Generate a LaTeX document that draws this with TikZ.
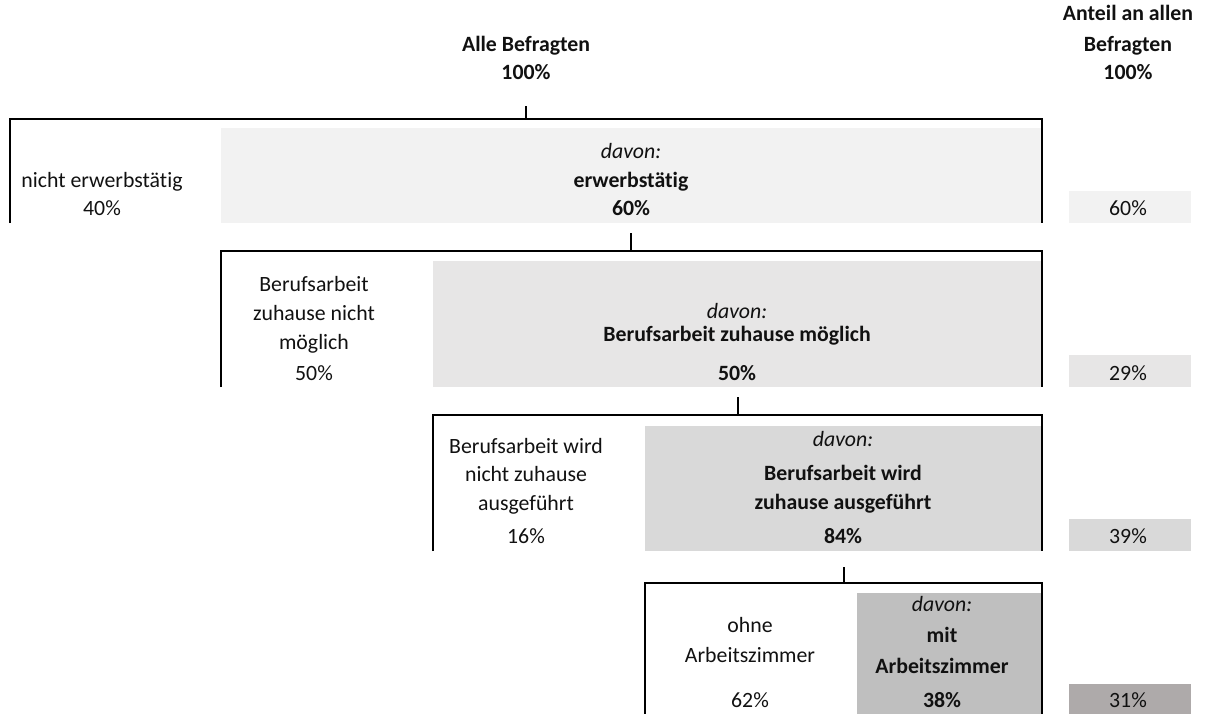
\documentclass[tikz,border=0pt]{standalone}
\usepackage{fontspec}
\setmainfont{Carlito}[Ligatures={NoCommon}]
\definecolor{tintA}{HTML}{F2F2F2}
\definecolor{tintB}{HTML}{E7E6E6}
\definecolor{tintC}{HTML}{D9D9D9}
\definecolor{tintD}{HTML}{BFBFBF}
\definecolor{tintE}{HTML}{AEAAAA}
\definecolor{ink}{HTML}{111111}
\begin{document}
\begin{tikzpicture}[x=1pt,y=-1pt,
  every node/.style={inner sep=0pt, outer sep=0pt, text=ink},
  txt/.style={anchor=base, font=\fontsize{21.8}{26}\selectfont},
  it/.style={anchor=base, font=\fontsize{21.8}{26}\selectfont\itshape},
  bf/.style={anchor=base, font=\fontsize{21.8}{26}\selectfont\bfseries},
  panel/.style={anchor=north west, draw=none},
  frame/.style={draw=black, line width=2.3pt},
  tick/.style={draw=black, line width=1.7pt},
]
\useasboundingbox (0,0) rectangle (1205,713);

% ---- column headers
\node[bf] (hAll1) at (526,51) {Alle Befragten};
\node[bf] (hAll2) at (526,79) {100\%};
\node[bf] (hShr1) at (1128,20) {Anteil an allen};
\node[bf] (hShr2) at (1128,51) {Befragten};
\node[bf] (hShr3) at (1128,79) {100\%};

% ---- level 1: erwerbstaetig
\node[panel, fill=tintA, minimum width=821pt, minimum height=95pt] (p1) at (221,128) {};
\node[panel, fill=tintA, minimum width=122pt, minimum height=32pt] (r1) at (1069,191) {};
\coordinate (f1l) at (10,223);
\coordinate (f1t) at (1042,119);
\coordinate (f1r) at (1042,223);
\draw[frame] (f1l) |- (f1t) -- (f1r);
\coordinate (c1a) at (526,106);
\coordinate (c1b) at (526,118);
\draw[tick] (c1a) -- (c1b);
\node[txt] (l1a) at (102,187) {nicht erwerbstätig};
\node[txt] (l1b) at (102,215) {40\%};
\node[it] (s1a) at (631,158) {davon:};
\node[bf] (s1b) at (631,187) {erwerbstätig};
\node[bf] (s1c) at (631,215) {60\%};
\node[txt] (v1) at (1128,215) {60\%};

% ---- level 2: Berufsarbeit zuhause moeglich
\node[panel, fill=tintB, minimum width=609pt, minimum height=126pt] (p2) at (433,261) {};
\node[panel, fill=tintB, minimum width=122pt, minimum height=32pt] (r2) at (1069,355) {};
\coordinate (f2l) at (221,387);
\coordinate (f2t) at (1042,251);
\coordinate (f2r) at (1042,387);
\draw[frame] (f2l) |- (f2t) -- (f2r);
\coordinate (c2a) at (631,233);
\coordinate (c2b) at (631,250);
\draw[tick] (c2a) -- (c2b);
\node[txt] (l2a) at (314,291) {Berufsarbeit};
\node[txt] (l2b) at (314,320) {zuhause nicht};
\node[txt] (l2c) at (314,349) {möglich};
\node[txt] (l2d) at (314,380) {50\%};
\node[it] (s2a) at (737,318) {davon:};
\node[bf] (s2b) at (737,341) {Berufsarbeit zuhause möglich};
\node[bf] (s2c) at (737,380) {50\%};
\node[txt] (v2) at (1128,380) {29\%};

% ---- level 3: Berufsarbeit wird zuhause ausgefuehrt
\node[panel, fill=tintC, minimum width=397pt, minimum height=125pt] (p3) at (645,426) {};
\node[panel, fill=tintC, minimum width=122pt, minimum height=32pt] (r3) at (1069,519) {};
\coordinate (f3l) at (433,551);
\coordinate (f3t) at (1042,415);
\coordinate (f3r) at (1042,551);
\draw[frame] (f3l) |- (f3t) -- (f3r);
\coordinate (c3a) at (738,397);
\coordinate (c3b) at (738,414);
\draw[tick] (c3a) -- (c3b);
\node[txt] (l3a) at (526,453) {Berufsarbeit wird};
\node[txt] (l3b) at (526,481) {nicht zuhause};
\node[txt] (l3c) at (526,510) {ausgeführt};
\node[txt] (l3d) at (526,543) {16\%};
\node[it] (s3a) at (843,446) {davon:};
\node[bf] (s3b) at (843,480) {Berufsarbeit wird};
\node[bf] (s3c) at (843,509) {zuhause ausgeführt};
\node[bf] (s3d) at (843,543) {84\%};
\node[txt] (v3) at (1128,543) {39\%};

% ---- level 4: mit Arbeitszimmer
\node[panel, fill=tintD, minimum width=185pt, minimum height=126pt] (p4) at (857,593) {};
\node[panel, fill=tintE, minimum width=122pt, minimum height=32pt] (r4) at (1069,684) {};
\coordinate (f4l) at (645,720);
\coordinate (f4t) at (1042,583);
\coordinate (f4r) at (1042,720);
\draw[frame] (f4l) |- (f4t) -- (f4r);
\coordinate (c4a) at (844,567);
\coordinate (c4b) at (844,582);
\draw[tick] (c4a) -- (c4b);
\node[txt] (l4a) at (750,632) {ohne};
\node[txt] (l4b) at (750,662) {Arbeitszimmer};
\node[txt] (l4c) at (750,707) {62\%};
\node[it] (s4a) at (942,611) {davon:};
\node[bf] (s4b) at (942,642) {mit};
\node[bf] (s4c) at (942,673) {Arbeitszimmer};
\node[bf] (s4d) at (942,707) {38\%};
\node[txt] (v4) at (1128,707) {31\%};
\end{tikzpicture}
\end{document}
